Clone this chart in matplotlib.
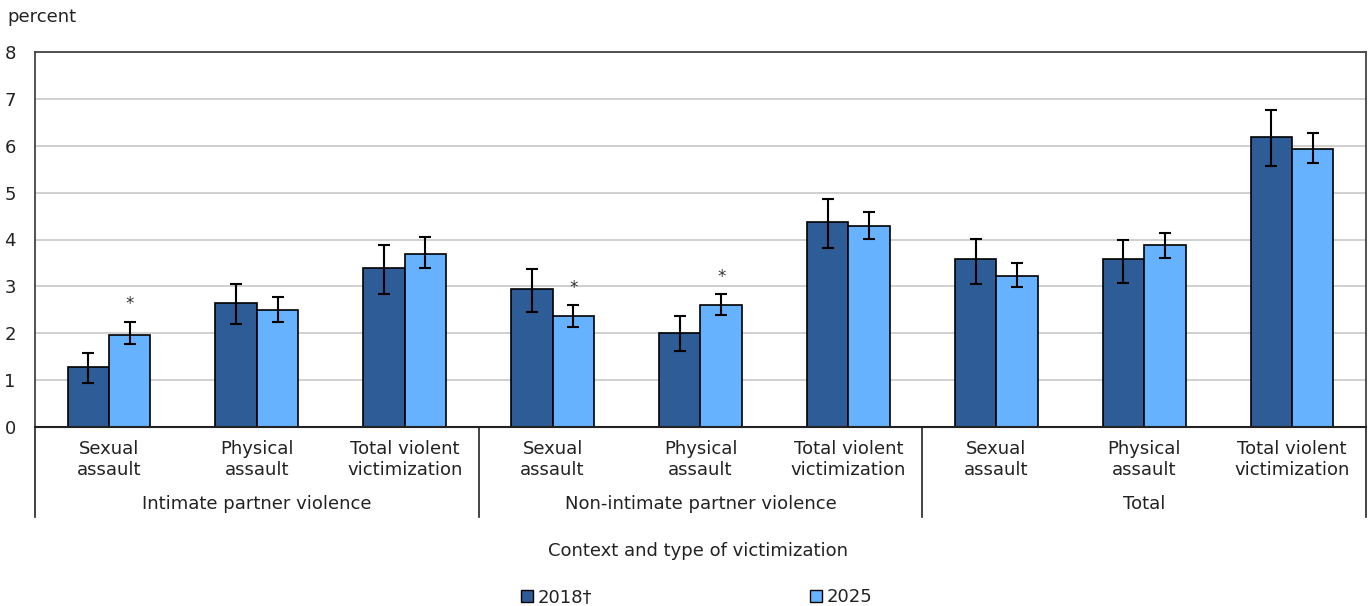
import numpy as np
import matplotlib
matplotlib.use("Agg")
import matplotlib.pyplot as plt
from matplotlib.patches import Patch

types = ["Sexual\nassault", "Physical\nassault", "Total violent\nvictimization"] * 3
contexts = ["Intimate partner violence", "Non-intimate partner violence", "Total"]

v2018 = [1.28, 2.64, 3.40, 2.94, 2.01, 4.37, 3.58, 3.58, 6.18]
lo2018 = [0.93, 2.19, 2.84, 2.46, 1.62, 3.81, 3.05, 3.08, 5.56]
hi2018 = [1.57, 3.05, 3.88, 3.37, 2.36, 4.86, 4.02, 3.99, 6.77]

v2025 = [1.97, 2.49, 3.70, 2.36, 2.60, 4.29, 3.22, 3.88, 5.94]
lo2025 = [1.77, 2.25, 3.40, 2.14, 2.39, 4.02, 2.98, 3.61, 5.63]
hi2025 = [2.25, 2.78, 4.06, 2.60, 2.84, 4.59, 3.50, 4.13, 6.28]

# significant difference from 2018 (reference year)
sig2025 = [True, False, False, True, True, False, False, False, False]

DARK = "#2e5c96"
LIGHT = "#66b2ff"
TXT = "#222222"
FS = 13

W, H = 1369, 606
fig = plt.figure(figsize=(W / 100, H / 100), dpi=100)
ax = fig.add_axes([35 / W, 1 - 427 / H, (1366 - 35) / W, (427 - 52) / H])

x = np.arange(len(types))
bw = 0.28
v2018 = np.array(v2018); v2025 = np.array(v2025)
err18 = [v2018 - np.array(lo2018), np.array(hi2018) - v2018]
err25 = [v2025 - np.array(lo2025), np.array(hi2025) - v2025]

ekw = dict(ecolor="black", elinewidth=1.5, capsize=4, capthick=1.5)
ax.bar(x - bw / 2, v2018, bw, color=DARK, edgecolor="black", lw=1.2,
       yerr=err18, error_kw=ekw, zorder=3)
ax.bar(x + bw / 2, v2025, bw, color=LIGHT, edgecolor="black", lw=1.2,
       yerr=err25, error_kw=ekw, zorder=3)

for xi, top, s in zip(x, hi2025, sig2025):
    if s:
        ax.annotate("*", (xi + bw / 2, top), xytext=(0, 6), textcoords="offset points",
                    ha="center", va="bottom", fontsize=12, color="#333333")

ax.set_xlim(-0.5, len(types) - 0.5)
ax.set_ylim(0, 8)
ax.set_yticks(range(9))
ax.tick_params(axis="y", length=0, pad=18, labelsize=FS, labelcolor=TXT)
for lab in ax.get_yticklabels():
    lab.set_horizontalalignment("center")
ax.set_xticks([])
ax.grid(axis="y", color="#d0d0d0", lw=1.4, zorder=0)
for s in ["left", "top", "right"]:
    ax.spines[s].set_color("#444444")
    ax.spines[s].set_linewidth(1.3)
ax.spines["bottom"].set_color("#222222")
ax.spines["bottom"].set_linewidth(1.5)
ax.spines["bottom"].set_zorder(4)

# category and group labels under the axis
trans = ax.get_xaxis_transform()
for xi, t in zip(x, types):
    ax.text(xi, -0.035, t, transform=trans, ha="center", va="top",
            fontsize=FS, color=TXT, linespacing=1.2)
for g, name in enumerate(contexts):
    ax.text(3 * g + 1, -0.205, name, transform=trans, ha="center", va="center",
            fontsize=FS, color=TXT)
for sep in [-0.5, 2.5, 5.5, 8.5]:
    ax.plot([sep, sep], [0, -0.24], transform=trans, color="#222222", lw=1.2,
            clip_on=False)

fig.text(7 / W, 1 - 17 / H, "percent", ha="left", va="center", fontsize=FS, color=TXT)
fig.text(698 / W, 1 - 551 / H, "Context and type of victimization", ha="center",
         va="center", fontsize=FS, color=TXT)

handles = [Patch(facecolor=DARK, edgecolor="black", lw=1.0, label="2018†"),
           Patch(facecolor=LIGHT, edgecolor="black", lw=1.0, label="2025")]
fig.legend(handles=handles, loc="center left", bbox_to_anchor=(521 / W, 1 - 597 / H),
           ncol=2, frameon=False, fontsize=FS, handlelength=0.65, handleheight=0.65,
           handletextpad=0.25, columnspacing=12.1, labelcolor=TXT, borderpad=0,
           borderaxespad=0)

fig.savefig("out.png", dpi=100)
